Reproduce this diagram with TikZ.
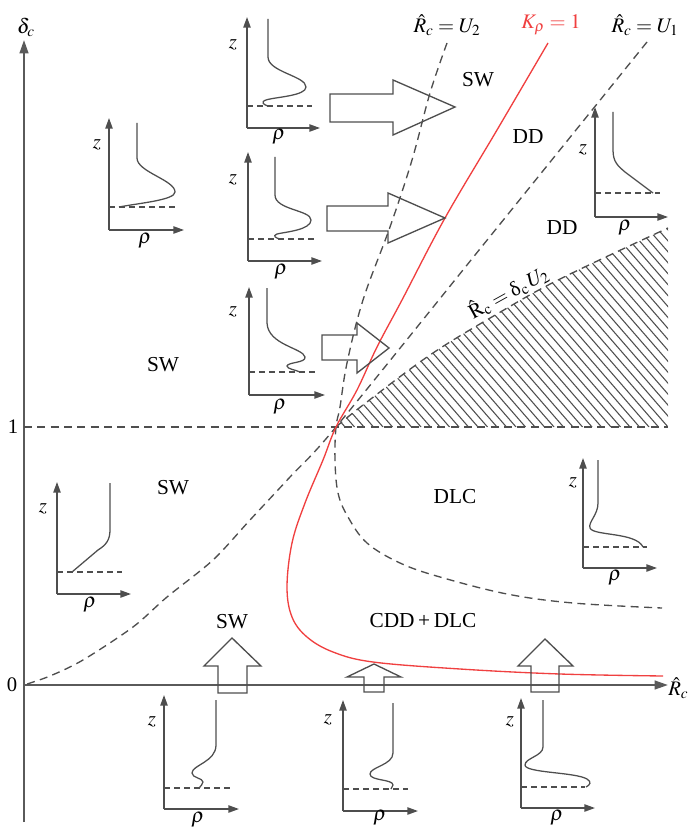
\documentclass[tikz,border=0pt]{standalone}
\usepackage{mathptmx}
\usepackage{fontspec}
\setmainfont{Liberation Serif}
\usetikzlibrary{arrows.meta}
\definecolor{axgray}{HTML}{5A5A5A}
\definecolor{lngray}{HTML}{4E4E4E}
\definecolor{kred}{HTML}{F04040}
\begin{document}
\begin{tikzpicture}[x=0.75pt,y=-0.75pt,
  mainax/.style={draw=axgray,line width=1.6pt,-{Triangle[length=10pt,width=6.5pt]}},
  insax/.style={draw=lngray,line width=1.1pt,-{Triangle[length=8pt,width=5.5pt]}},
  prof/.style={draw=lngray,line width=0.95pt},
  insdash/.style={draw=lngray,line width=0.9pt,dash pattern=on 4.5pt off 3pt},
  bnd/.style={draw=lngray,line width=1pt,dash pattern=on 6pt off 4pt},
  kline/.style={draw=kred,line width=1pt},
  barrow/.style={draw=lngray,line width=1pt,line join=miter},
  hatchln/.style={draw=lngray,line width=0.8pt},
  reg/.style={font=\fontsize{16}{19}\selectfont,inner sep=0pt},
  axl/.style={font=\fontsize{15.5}{18}\selectfont,inner sep=0pt},
]
\useasboundingbox (0,0) rectangle (690,830);

% ---- hatched region
\begin{scope}
\clip plot[smooth,tension=0.6] coordinates {(336,427) (363,405) (430,355) (497,314) (560,279) (668,228)} -- (668,427) -- cycle;
\foreach \x in {345,354.5,...,880} {\draw[hatchln] (\x,427) -- ++(-210,-242);}
\end{scope}
\draw[bnd] plot[smooth,tension=0.6] coordinates {(336,427) (363,405) (430,355) (497,314) (560,279) (668,228)};

% ---- main axes
\coordinate (O) at (24,685);
\coordinate (ybot) at (24,822);
\coordinate (ytop) at (24,40);
\coordinate (xend) at (668,685);
\draw[mainax] (ybot) -- (ytop);
\draw[mainax] (O) -- (xend);
\node[axl] (dlab) at (26,27) {$\delta_c$};
\node[axl,anchor=west] (rlab) at (668,688) {$\hat{R}_c$};
\node[axl] (zero) at (12,685) {0};
\node[axl] (one) at (13,427) {1};

% ---- delta = 1 line
\coordinate (d1a) at (24,427);
\coordinate (d1b) at (668,427);
\draw[bnd] (d1a) -- (d1b);

% ---- boundary curves
\draw[bnd] plot[smooth,tension=0.6] coordinates {(447,43) (430,93) (412,160) (390,227) (363,300) (347,363) (340,407) (336,427) (335,460) (338,493) (348,517) (367,543) (400,563) (440,577) (507,594) (573,603) (662,608)};
\draw[bnd] plot[smooth,tension=0.5] coordinates {(647,42) (492,234) (336,427) (290,477) (250,520) (213,560) (167,597) (133,627) (83,660) (50,676) (24,685)};
\draw[kline] plot[smooth,tension=0.6] coordinates {(548,43) (497,130) (445,218) (402,300) (377,347) (357,390) (336,427) (323,460) (305,503) (292,543) (287,587) (292,617) (307,637) (333,652) (373,662) (460,669) (560,674) (663,676)};

% ---- top labels
\node[axl] (lu2) at (447,25) {$\hat{R}_c = U_2$};
\node[axl,text=kred] (lk) at (551,25) {$K_\rho = 1$};
\node[axl] (lu1) at (645,25) {$\hat{R}_c = U_1$};
\node[axl,rotate=29] (lhat) at (508,292) {$\hat{\mathrm{R}}_{\mathrm{c}} = \mbox{δ}_{\mathrm{c}}\,U_2$};

% ---- region labels
\node[reg] (sw1) at (478,80) {SW};
\node[reg] (dd1) at (528,137) {DD};
\node[reg] (dd2) at (562,228) {DD};
\node[reg] (sw2) at (163,365) {SW};
\node[reg] (sw3) at (173,488) {SW};
\node[reg] (dlc) at (455,497) {DLC};
\node[reg] (cdd) at (423,621) {CDD\,+\,DLC};
\node[reg] (sw4) at (232,622) {SW};

% ---- big arrows
\draw[barrow] (330,94) -- (393,94) -- (393,80) -- (455,107) -- (393,135) -- (393,122) -- (330,122) -- cycle;
\draw[barrow] (327,206) -- (388,206) -- (388,193) -- (445,218) -- (388,243) -- (388,231) -- (327,231) -- cycle;
\draw[barrow] (322,335) -- (357,335) -- (357,323) -- (389,348) -- (357,373) -- (357,360) -- (322,360) -- cycle;
\draw[barrow] (218,693) -- (218,666) -- (204,666) -- (232,638) -- (261,666) -- (247,666) -- (247,693) -- cycle;
\draw[barrow] (364,692) -- (364,677) -- (347,677) -- (374,664) -- (401,677) -- (384,677) -- (384,692) -- cycle;
\draw[barrow] (531,692) -- (531,666) -- (518,666) -- (545,639) -- (573,666) -- (559,666) -- (559,692) -- cycle;

% ---- inset 1 (top left)
\draw[insax] (109,230) -- (109,118);
\draw[insax] (109,230) -- (184,230);
\draw[insdash] (109,207) -- (175,207);
\draw[prof] (137,123) -- (137,158) .. controls (137,172) and (175,180) .. (175,192) .. controls (175,200) and (140,203) .. (119,207);
\node[axl] (z1) at (97,145) {$z$};
\node[axl] (r1) at (145,241) {$\rho$};

% ---- inset 2
\draw[insax] (247,128) -- (247,17);
\draw[insax] (247,128) -- (320,128);
\draw[insdash] (247,106) -- (312,106);
\draw[prof] (268,19) -- (268,57) .. controls (268,72) and (306,76) .. (306,87) .. controls (306,96) and (275,97) .. (266,100) .. controls (260,102) and (264,105) .. (268,106);
\node[axl] (z2) at (233,45) {$z$};
\node[axl] (r2) at (279,137) {$\rho$};

% ---- inset 3
\draw[insax] (248,261) -- (248,152);
\draw[insax] (248,261) -- (322,261);
\draw[insdash] (248,239) -- (315,239);
\draw[prof] (275,157) -- (275,195) .. controls (275,210) and (311,210) .. (311,220) .. controls (311,230) and (285,232) .. (277,234) .. controls (272,236) and (276,238) .. (280,239);
\node[axl] (z3) at (233,180) {$z$};
\node[axl] (r3) at (281,272) {$\rho$};

% ---- inset 4
\draw[insax] (249,395) -- (249,287);
\draw[insax] (249,395) -- (325,395);
\draw[insdash] (249,372) -- (316,372);
\draw[prof] (267,288) -- (267,323) .. controls (268,345) and (303,348) .. (305,357) .. controls (306,363) and (288,362) .. (287,366) .. controls (287,369) and (296,370) .. (300,372);
\node[axl] (z4) at (233,312) {$z$};
\node[axl] (r4) at (280,407) {$\rho$};

% ---- inset 5 (top right)
\draw[insax] (595,217) -- (595,107);
\draw[insax] (595,217) -- (668,217);
\draw[insdash] (595,193) -- (660,193);
\draw[prof] (613,112) -- (613,150) .. controls (613,162) and (618,166) .. (625,172) -- (653,193);
\node[axl] (z5) at (583,150) {$z$};
\node[axl] (r5) at (625,228) {$\rho$};

% ---- inset 6 (lower left)
\draw[insax] (57,594) -- (57,482);
\draw[insax] (57,594) -- (131,594);
\draw[insdash] (57,572) -- (122,572);
\draw[prof] (110,483) -- (110,530) .. controls (110,540) and (106,545) .. (98,550) -- (72,572);
\node[axl] (z6) at (43,509) {$z$};
\node[axl] (r6) at (90,605) {$\rho$};

% ---- inset 7 (DLC)
\draw[insax] (583,568) -- (583,458);
\draw[insax] (583,568) -- (657,568);
\draw[insdash] (583,547) -- (647,547);
\draw[prof] (598,460) -- (598,503) .. controls (598,515) and (588,522) .. (590,528) .. controls (593,536) and (636,532) .. (643,547);
\node[axl] (z7) at (573,483) {$z$};
\node[axl] (r7) at (615,578) {$\rho$};

% ---- inset 8 (bottom, SW)
\draw[insax] (164,809) -- (164,695);
\draw[insax] (164,809) -- (239,809);
\draw[insdash] (164,788) -- (230,788);
\draw[prof] (216,700) -- (216,745) .. controls (216,762) and (192,765) .. (192,773) .. controls (192,778) and (203,778) .. (203,782) .. controls (203,785) and (200,786) .. (199,788);
\node[axl] (z8) at (152,722) {$z$};
\node[axl] (r8) at (198,820) {$\rho$};

% ---- inset 9 (bottom middle)
\draw[insax] (343,811) -- (343,700);
\draw[insax] (343,811) -- (418,811);
\draw[insdash] (343,789) -- (408,789);
\draw[prof] (393,703) -- (393,753) .. controls (393,765) and (370,767) .. (370,774) .. controls (370,781) and (393,779) .. (393,785) -- (391,789);
\node[axl] (z9) at (328,720) {$z$};
\node[axl] (r9) at (380,818) {$\rho$};

% ---- inset 10 (bottom right)
\draw[insax] (521,808) -- (521,698);
\draw[insax] (521,808) -- (595,808);
\draw[insdash] (521,787) -- (585,787);
\draw[prof] (543,700) -- (543,747) .. controls (543,756) and (525,758) .. (525,765) .. controls (525,773) and (575,772) .. (587,779) .. controls (592,782) and (590,785) .. (586,787);
\node[axl] (z10) at (510,722) {$z$};
\node[axl] (r10) at (557,818) {$\rho$};

\end{tikzpicture}
\end{document}
